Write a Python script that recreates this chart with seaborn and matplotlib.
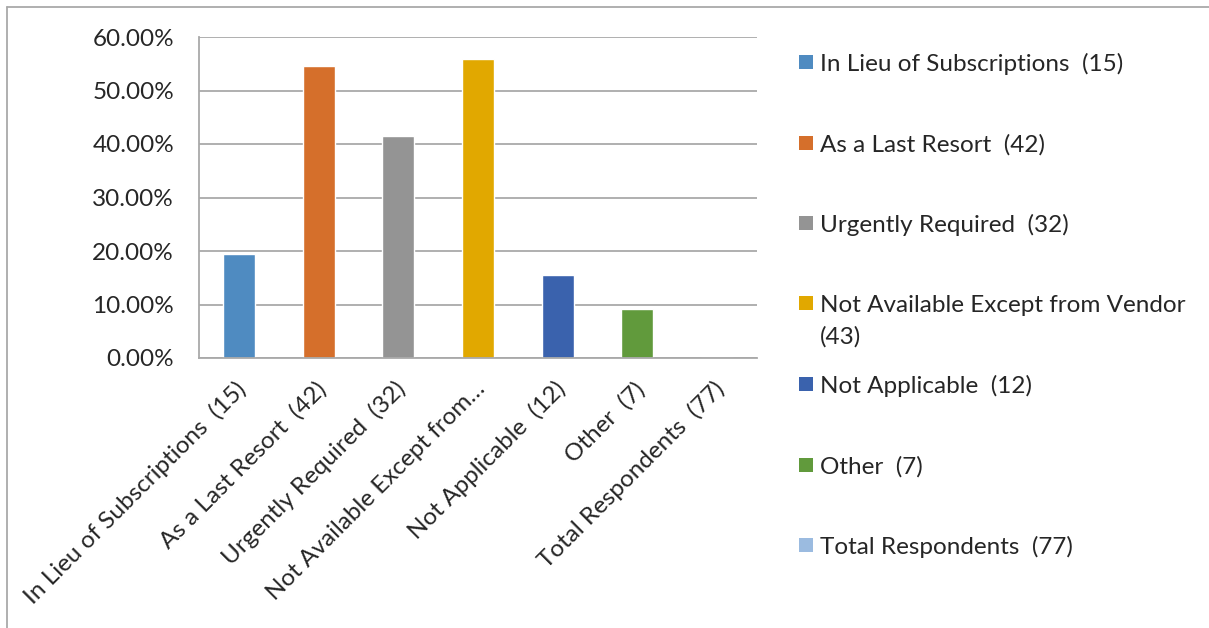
import matplotlib
matplotlib.use("Agg")
import matplotlib.pyplot as plt
import matplotlib.patches as mpatches
import matplotlib.lines as mlines
import matplotlib.transforms as mtransforms
from matplotlib.ticker import PercentFormatter, MultipleLocator
import seaborn as sns
import pandas as pd

# 数据
categories = [
    "In Lieu of Subscriptions  (15)",
    "As a Last Resort  (42)",
    "Urgently Required  (32)",
    "Not Available Except from Vendor  (43)",
    "Not Applicable  (12)",
    "Other  (7)",
    "Total Respondents  (77)",
]
tick_labels = [
    "In Lieu of Subscriptions  (15)",
    "As a Last Resort  (42)",
    "Urgently Required  (32)",
    "Not Available Except from…",
    "Not Applicable  (12)",
    "Other  (7)",
    "Total Respondents  (77)",
]
legend_labels = [
    "In Lieu of Subscriptions  (15)",
    "As a Last Resort  (42)",
    "Urgently Required  (32)",
    "Not Available Except from Vendor\n(43)",
    "Not Applicable  (12)",
    "Other  (7)",
    "Total Respondents  (77)",
]
shares = [19.48, 54.55, 41.56, 55.84, 15.58, 9.09, 0.0]
colors = ["#4F8BC1", "#D56F2B", "#949494", "#E1A800", "#3A62AD", "#619A3C", "#9BBBE0"]

sns.set_style("white")
plt.rcParams["font.family"] = ["Lato", "DejaVu Sans"]
FS = 17.5

W, H = 1209, 628
fig = plt.figure(figsize=(W / 100, H / 100), dpi=100)
ax = fig.add_axes([199 / W, 1 - 358 / H, (757 - 199) / W, (358 - 37) / H])

df = pd.DataFrame({"cat": categories, "share": shares})
sns.barplot(
    data=df, x="cat", y="share", hue="cat", palette=colors,
    width=0.4, legend=False, ax=ax, saturation=1,
)

grid_c = "#A9A9A9"
ax.set_ylim(0, 60)
ax.set_xlim(-0.5, len(categories) - 0.5)
ax.yaxis.set_major_locator(MultipleLocator(10))
ax.yaxis.set_major_formatter(PercentFormatter(decimals=2))
ax.grid(axis="y", color=grid_c, linewidth=1.3)
ax.set_axisbelow(True)
ax.set_xlabel("")
ax.set_ylabel("")
for s in ["top", "right"]:
    ax.spines[s].set_visible(False)
for s in ["left", "bottom"]:
    ax.spines[s].set_color(grid_c)
    ax.spines[s].set_linewidth(1.3)

ax.tick_params(axis="y", length=6, width=1.3, color=grid_c, pad=12, labelsize=FS)
ax.set_xticks([i - 0.5 for i in range(len(categories) + 1)], minor=False)
ax.set_xticklabels([])
ax.set_xticks(range(len(categories)), minor=True)
ax.set_xticklabels(tick_labels, minor=True, rotation=45, ha="right",
                   va="center", rotation_mode="anchor", fontsize=FS)
ax.tick_params(axis="x", which="major", length=6, width=1.3, color=grid_c)
ax.tick_params(axis="x", which="minor", length=0, pad=20)
offset = mtransforms.ScaledTranslation(4 / 100, 0, fig.dpi_scale_trans)
for lbl in ax.get_xticklabels(minor=True):
    lbl.set_transform(lbl.get_transform() + offset)

# 图例（手动绘制）
for i, (lab, col) in enumerate(zip(legend_labels, colors)):
    yc = 62 + 80.5 * i
    extra = 31 * lab.count("\n")  # 多行时 baseline 对齐最后一行
    fig.patches.append(mpatches.Rectangle(
        (799 / W, 1 - (yc + 7) / H), 14 / W, 14 / H,
        transform=fig.transFigure, facecolor=col, edgecolor="none"))
    fig.text(820 / W, 1 - (yc + 9 + extra) / H, lab, ha="left", va="baseline",
             fontsize=FS, linespacing=1.55)

# 外框
fig.add_artist(mlines.Line2D([7 / W, 7 / W], [0, 1 - 7 / H], color="#A9A9A9",
                             linewidth=1.3, transform=fig.transFigure))
fig.add_artist(mlines.Line2D([7 / W, 1], [1 - 7 / H, 1 - 7 / H], color="#A9A9A9",
                             linewidth=1.3, transform=fig.transFigure))

fig.savefig("out.png", dpi=100)
